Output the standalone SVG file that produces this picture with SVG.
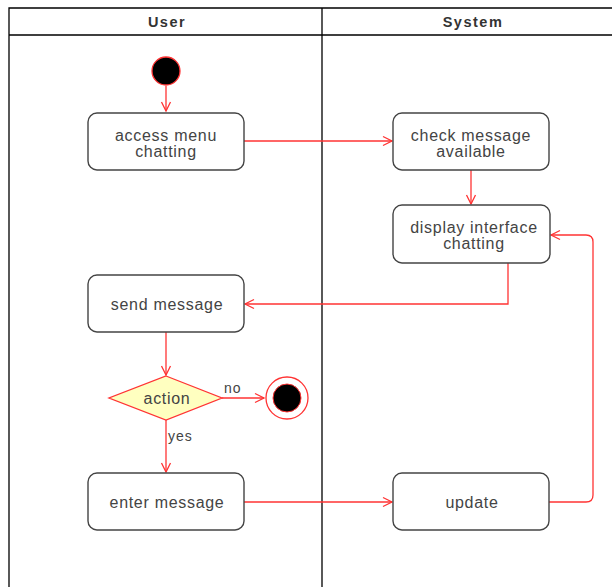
<svg xmlns="http://www.w3.org/2000/svg" width="612" height="587" viewBox="0 0 612 587">
<style>
.lane{fill:none;stroke:#000;stroke-width:1.3}
.node{fill:#fff;stroke:#444;stroke-width:1.4}
.t{font-family:"Liberation Sans",Arial,sans-serif;font-size:16px;letter-spacing:0.7px;fill:#444;text-anchor:middle}
.h{font-family:"Liberation Sans",Arial,sans-serif;font-size:14.5px;letter-spacing:1.5px;font-weight:bold;fill:#333;text-anchor:middle}
.c{fill:none;stroke:#ff3333;stroke-width:1.3}
.lbl{font-family:"Liberation Sans",Arial,sans-serif;font-size:14px;letter-spacing:1px;fill:#444}
</style>
<defs>
<marker id="arr" markerWidth="12" markerHeight="12" refX="10" refY="6" orient="auto" markerUnits="userSpaceOnUse">
<path d="M1,1.5 L10,6 L1,10.5" fill="none" stroke="#ff3333" stroke-width="1.3"/>
</marker>
</defs>
<rect width="612" height="587" fill="#fff"/>
<g id="pool">
<path class="lane" d="M9,595 V8 H620 M9,35 H620 M322,8 V595"/>
<text class="h" x="167" y="27">User</text>
<text class="h" x="473" y="27">System</text>
</g>
<g id="connectors">
<path class="c" d="M166,86 V111" marker-end="url(#arr)"/>
<path class="c" d="M244,141 H392" marker-end="url(#arr)"/>
<path class="c" d="M471,170 V204" marker-end="url(#arr)"/>
<path class="c" d="M508,263 V304 H245" marker-end="url(#arr)"/>
<path class="c" d="M166,332 V375" marker-end="url(#arr)"/>
<path class="c" d="M222,398 H264" marker-end="url(#arr)"/>
<text class="lbl" x="224" y="393">no</text>
<path class="c" d="M166,420 V472" marker-end="url(#arr)"/>
<text class="lbl" x="168" y="441">yes</text>
<path class="c" d="M244,502 H392" marker-end="url(#arr)"/>
<path class="c" d="M549,502 H586 Q593,502 593,495 V242 Q593,235 586,235 H551" marker-end="url(#arr)"/>
</g>
<g id="start">
<circle cx="166" cy="71" r="14" fill="#000" stroke="#ff3333" stroke-width="1.3"/>
</g>
<g id="access">
<rect class="node" x="88" y="113" width="156" height="57" rx="9"/>
<text class="t" x="166" y="141">access menu</text>
<text class="t" x="166" y="157">chatting</text>
</g>
<g id="check">
<rect class="node" x="393" y="113" width="156" height="57" rx="9"/>
<text class="t" x="471" y="141">check message</text>
<text class="t" x="471" y="157">available</text>
</g>
<g id="display">
<rect class="node" x="393" y="205" width="157" height="58" rx="9"/>
<text class="t" x="474" y="233">display interface</text>
<text class="t" x="474" y="249">chatting</text>
</g>
<g id="send">
<rect class="node" x="88" y="275" width="156" height="57" rx="9"/>
<text class="t" x="167" y="310">send message</text>
</g>
<g id="action">
<path d="M166,376 L222,398 L166,420 L109,398 Z" fill="#ffffc0" stroke="#ff3333" stroke-width="1.3"/>
<text class="t" x="167" y="404">action</text>
</g>
<g id="end">
<circle cx="287" cy="398" r="21" fill="#fff" stroke="#ff3333" stroke-width="1.3"/>
<circle cx="287" cy="398" r="14" fill="#000" stroke="#ff3333" stroke-width="1"/>
</g>
<g id="enter">
<rect class="node" x="88" y="473" width="156" height="57" rx="9"/>
<text class="t" x="167" y="508">enter message</text>
</g>
<g id="update">
<rect class="node" x="393" y="473" width="156" height="57" rx="9"/>
<text class="t" x="472" y="508">update</text>
</g>
</svg>
